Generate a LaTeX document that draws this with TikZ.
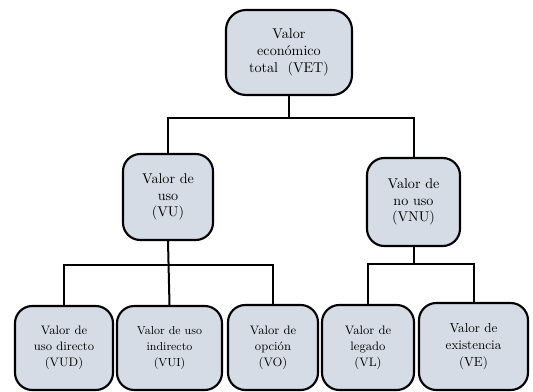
\documentclass[tikz,border=0pt]{standalone}
\definecolor{boxfill}{HTML}{D6DCE5}
\tikzset{
  vbox/.style={draw=black, line width=1.6pt, fill=boxfill, rounded corners=#1, align=center, inner sep=1pt},
  vbox/.default=13pt,
  big/.style={font=\fontsize{10.6}{12.5}\selectfont},
  small/.style={font=\fontsize{9.2}{12}\selectfont},
  conn/.style={line width=1.5pt}
}
\begin{document}
\begin{tikzpicture}[x=0.75pt,y=-0.75pt]
\useasboundingbox (0,0) rectangle (533,392);
\node[vbox=15pt, big, minimum width=126*0.75pt, minimum height=85*0.75pt] (VET) at (289,52.5) {Valor\\económico\\total\ \ (VET)};
\node[vbox, big, minimum width=90*0.75pt, minimum height=86*0.75pt] (VU) at (168,197) {Valor de\\uso\\(VU)};
\node[vbox, big, minimum width=93*0.75pt, minimum height=88*0.75pt] (VNU) at (413.5,202) {Valor de\\no uso\\(VNU)};
\node[vbox, small, minimum width=98*0.75pt, minimum height=84*0.75pt] (VUD) at (64,348) {Valor de\\uso directo\\(VUD)};
\node[vbox, small, minimum width=105*0.75pt, minimum height=84*0.75pt, font=\fontsize{8.7}{12}\selectfont] (VUI) at (169.5,348) {Valor de uso\\indirecto\\(VUI)};
\node[vbox, small, minimum width=90*0.75pt, minimum height=85*0.75pt] (VO) at (273,347.5) {Valor de\\opción\\(VO)};
\node[vbox, small, minimum width=92*0.75pt, minimum height=85*0.75pt] (VL) at (368,347.5) {Valor de\\legado\\(VL)};
\node[vbox, small, minimum width=109*0.75pt, minimum height=87*0.75pt, font=\fontsize{9.8}{12.5}\selectfont] (VE) at (473.5,346.5) {Valor de\\existencia\\(VE)};
\coordinate (h1) at (0,118);
\coordinate (h2) at (0,265);
\coordinate (h3) at (0,264);
\draw[conn] (VET.south) -- (VET.south |- h1);
\draw[conn] (VU.north) -- (VU.north |- h1) -| (VNU.north);
\draw[conn] (VU.south) -- (VUI.north);
\draw[conn] (VUD.north) -- (VUD.north |- h2) -| (VO.north);
\draw[conn] (VNU.south) -- (VNU.south |- h3);
\draw[conn] (VL.north) -- (VL.north |- h3) -| (VE.north);
\end{tikzpicture}
\end{document}
